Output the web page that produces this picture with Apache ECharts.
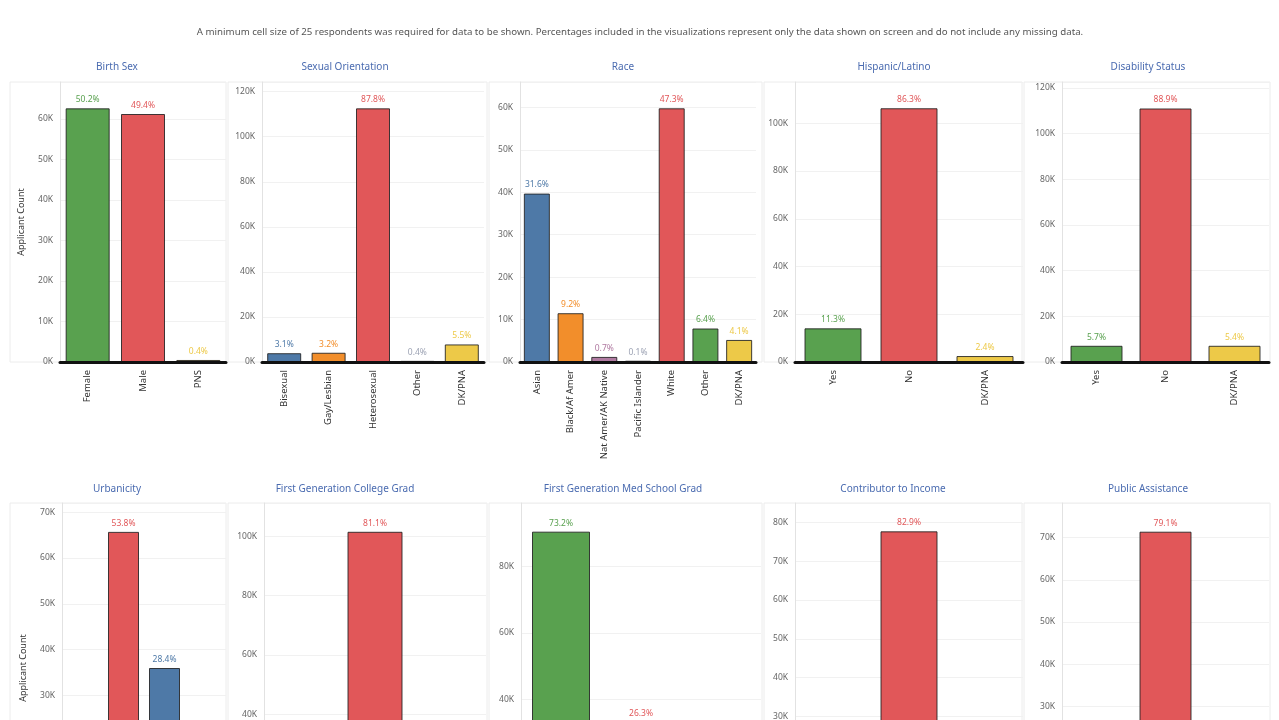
<!DOCTYPE html>
<html>
<head>
<meta charset="utf-8">
<script src="https://cdn.jsdelivr.net/npm/echarts@6/dist/echarts.min.js"></script>
<style>
html,body{margin:0;padding:0;background:#fff;overflow:hidden;}
#chart{width:1279px;height:980px;}
</style>
</head>
<body>
<div id="chart"></div>
<script>
// ---------- DATA ----------
const noteText = "A minimum cell size of 25 respondents was required for data to be shown. Percentages included in the visualizations represent only the data shown on screen and do not include any missing data.";
const panelTitles = ['Birth Sex','Sexual Orientation','Race','Hispanic/Latino','Disability Status',
  'Urbanicity','First Generation College Grad','First Generation Med School Grad','Contributor to Income','Public Assistance'];
const yAxisName = 'Applicant Count';

const birthSexCats = ['Female','Male','PNS'];
const birthSexVals = [62600, 61200, 500];
const birthSexPct = ['50.2%','49.4%','0.4%'];

const orientationCats = ['Bisexual','Gay/Lesbian','Heterosexual','Other','DK/PNA'];
const orientationVals = [3900, 4100, 112600, 500, 7800];
const orientationPct = ['3.1%','3.2%','87.8%','0.4%','5.5%'];

const raceCats = ['Asian','Black/Af Amer','Nat Amer/AK Native','Pacific Islander','White','Other','DK/PNA'];
const raceVals = [39700, 11500, 1200, 300, 59800, 7900, 5200];
const racePct = ['31.6%','9.2%','0.7%','0.1%','47.3%','6.4%','4.1%'];

const hispanicCats = ['Yes','No','DK/PNA'];
const hispanicVals = [14100, 106300, 2500];
const hispanicPct = ['11.3%','86.3%','2.4%'];

const disabilityCats = ['Yes','No','DK/PNA'];
const disabilityVals = [7100, 111000, 7100];
const disabilityPct = ['5.7%','88.9%','5.4%'];

const urbanicityCats = ['Rural','Suburban','Urban','DK/PNA'];
const urbanicityVals = [14500, 65700, 36000, 5500];
const urbanicityPct = ['12.6%','53.8%','28.4%','5.2%'];

const firstGenCollegeCats = ['Yes','No','DK/PNA'];
const firstGenCollegeVals = [22000, 101500, 1800];
const firstGenCollegePct = ['17.5%','81.1%','1.4%'];

const firstGenMedCats = ['Yes','No','DK/PNA'];
const firstGenMedVals = [90400, 33400, 600];
const firstGenMedPct = ['73.2%','26.3%','0.5%'];

const incomeCats = ['Yes','No','DK/PNA'];
const incomeVals = [15000, 77700, 1000];
const incomePct = ['16.0%','82.9%','1.1%'];

const assistanceCats = ['Yes','No','DK/PNA'];
const assistanceVals = [14000, 71400, 4900];
const assistancePct = ['15.5%','79.1%','5.4%'];

// y-axis ticks (value ranges and tick steps)
const yMax = [69100, 124300, 66000, 117300, 122600, 72000, 111200, 99000, 85000, 78200];
const yStep = [10000, 20000, 10000, 20000, 20000, 10000, 20000, 20000, 10000, 10000];

// ---------- STYLES ----------
const C = {green:'#59a14f', red:'#e15759', blue:'#4e79a7', orange:'#f28e2b', yellow:'#edc948', purple:'#b07aa1', gray:'#9da3b4'};
const colorSets = [
  [C.green, C.red, C.yellow],
  [C.blue, C.orange, C.red, C.gray, C.yellow],
  [C.blue, C.orange, C.purple, C.gray, C.red, C.green, C.yellow],
  [C.green, C.red, C.yellow],
  [C.green, C.red, C.yellow],
  [C.green, C.red, C.blue, C.yellow],
  [C.green, C.red, C.yellow],
  [C.green, C.red, C.yellow],
  [C.green, C.red, C.yellow],
  [C.green, C.red, C.yellow]
];
const panels = [
  [birthSexCats, birthSexVals, birthSexPct],
  [orientationCats, orientationVals, orientationPct],
  [raceCats, raceVals, racePct],
  [hispanicCats, hispanicVals, hispanicPct],
  [disabilityCats, disabilityVals, disabilityPct],
  [urbanicityCats, urbanicityVals, urbanicityPct],
  [firstGenCollegeCats, firstGenCollegeVals, firstGenCollegePct],
  [firstGenMedCats, firstGenMedVals, firstGenMedPct],
  [incomeCats, incomeVals, incomePct],
  [assistanceCats, assistanceVals, assistancePct]
];
// layout: grid left, width, bar width; title x
const gridLeft = [60, 262, 520, 795, 1062, 62, 264, 521, 795, 1062];
const gridWidth = [166, 222, 236, 228, 207, 164, 222, 240, 228, 207];
const barW = [44, 34, 26, 57, 52, 31, 55, 58, 57, 52];
const titleX = [117, 345, 623, 894, 1148, 117, 345, 623, 893, 1148];
const rowTop = [82, 503];
const rowHeight = [280, 330];
const titleY = [67, 489];
const frameX = [[10, 226], [228, 487], [489, 762], [764, 1022], [1024, 1270]];

const FONT = 'Noto Sans';
const grids = [], xAxes = [], yAxes = [], series = [], graphics = [];

graphics.push({type:'text', x:640, y:32, silent:true,
  style:{text:noteText, align:'center', verticalAlign:'middle', fill:'#555', fontSize:9.7, fontFamily:FONT}});

panels.forEach((p, i) => {
  const row = i < 5 ? 0 : 1;
  const col = i % 5;
  const [cats, vals, pct] = p;
  grids.push({left: gridLeft[i], width: gridWidth[i], top: rowTop[row], height: rowHeight[row]});
  xAxes.push({
    gridIndex: i, type: 'category', data: cats,
    axisLine: {show: true, lineStyle: {color: '#111', width: 3}},
    axisTick: {show: false},
    axisLabel: {rotate: 90, interval: 0, fontSize: 9.5, color: '#333', margin: 8, fontFamily: FONT},
    z: 5
  });
  const step = yStep[i];
  yAxes.push({
    gridIndex: i, type: 'value', min: 0, max: yMax[i], interval: step,
    name: col === 0 ? yAxisName : '',
    nameLocation: 'middle', nameGap: 34,
    nameTextStyle: {fontSize: 9, color: '#333', fontFamily: FONT},
    axisLine: {show: true, lineStyle: {color: '#e2e2e2'}},
    axisTick: {show: false},
    splitLine: {show: true, lineStyle: {color: '#f1f1f1'}},
    axisLabel: {fontSize: 8.5, color: '#666', margin: 7, fontFamily: FONT,
      formatter: v => (v % step === 0 ? (v / 1000) + 'K' : '')}
  });
  series.push({
    type: 'bar', xAxisIndex: i, yAxisIndex: i, barWidth: barW[i],
    data: vals.map((v, k) => ({
      value: v,
      itemStyle: {color: colorSets[i][k], borderColor: 'rgba(30,30,30,0.85)', borderWidth: 1},
      label: {show: true, position: 'top', distance: 4, formatter: pct[k], color: colorSets[i][k],
        fontSize: 8.5, fontFamily: FONT}
    }))
  });
  graphics.push({type:'text', x: titleX[i], y: titleY[row], silent: true,
    style: {text: panelTitles[i], align: 'center', verticalAlign: 'middle', fill: '#4a6bb0', fontSize: 10, fontFamily: FONT}});
  graphics.push({type:'rect', silent: true, z: -10,
    shape: {x: frameX[col][0], y: rowTop[row], width: frameX[col][1] - frameX[col][0], height: rowHeight[row]},
    style: {fill: 'none', stroke: '#ececec', lineWidth: 1}});
});

const chart = echarts.init(document.getElementById('chart'), null, {renderer: 'canvas'});
chart.setOption({
  animation: false,
  backgroundColor: '#fff',
  textStyle: {fontFamily: FONT},
  grid: grids, xAxis: xAxes, yAxis: yAxes, series: series,
  graphic: graphics
});
</script>
</body>
</html>
